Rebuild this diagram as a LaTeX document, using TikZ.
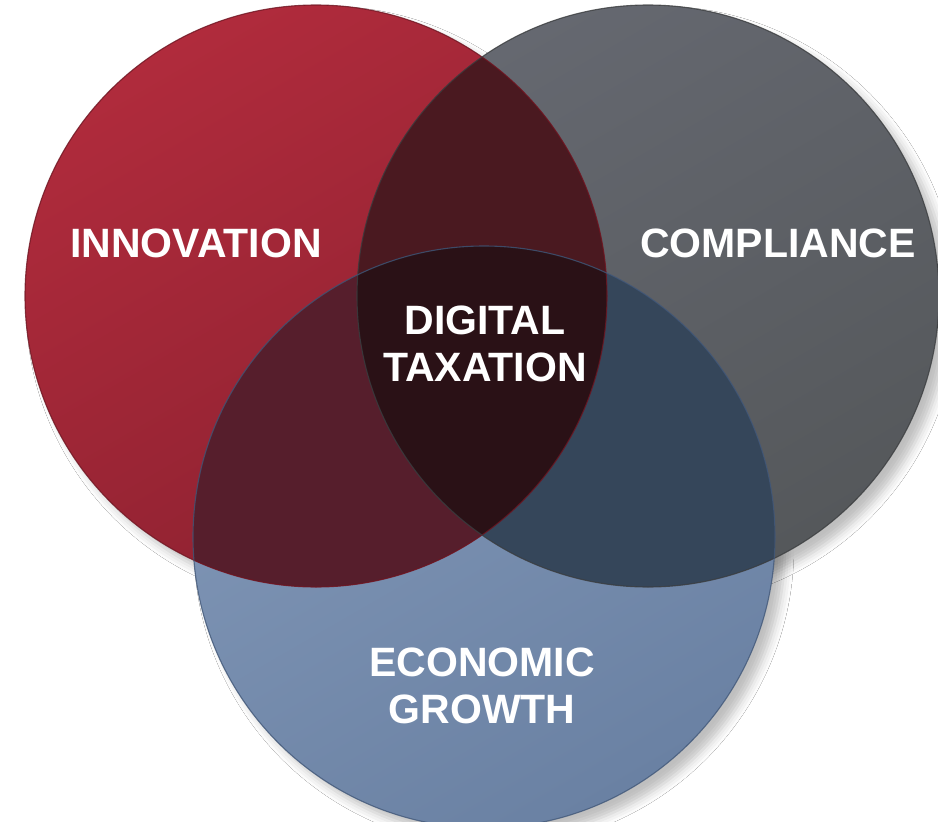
\documentclass[tikz,border=0pt]{standalone}
\usepackage{fontspec}
\setsansfont{Liberation Sans}
\usetikzlibrary{positioning,shadows.blur}

\definecolor{redhi}{HTML}{B02B3C}
\definecolor{redlo}{HTML}{8C2130}
\definecolor{grayhi}{HTML}{656870}
\definecolor{graylo}{HTML}{55585B}
\definecolor{bluehi}{HTML}{8298B8}
\definecolor{bluelo}{HTML}{6A81A3}
\definecolor{redgray}{HTML}{4A1920}
\definecolor{redblue}{HTML}{561E2C}
\definecolor{grayblue}{HTML}{35465A}
\definecolor{core}{HTML}{2A1116}
\definecolor{redrim}{HTML}{6E1521}
\definecolor{grayrim}{HTML}{3A3C3E}
\definecolor{bluerim}{HTML}{3F5576}

\begin{document}
\begin{tikzpicture}[x=1pt, y=-1pt,
    lbl/.style={text=white, font=\sffamily\bfseries\fontsize{41}{47}\selectfont, align=center, inner sep=0pt},
    rim/.style={line width=1.1pt, draw opacity=0.8}]
    \useasboundingbox (0,0) rectangle (938,822);
    \fill[white] (0,0) rectangle (938,822);
    \def\rad{291pt}
    \coordinate (red) at (316,296);
    \coordinate (gray) at (648,296);
    \coordinate (blue) at (484,537);
    % soft shadows under the three discs
    \foreach \k in {red,gray,blue}
        \fill[white, blur shadow={shadow xshift=10pt, shadow yshift=-10pt, shadow blur radius=9pt, shadow opacity=25}] (\k) circle[radius=\rad];
    % the discs
    \shade[top color=grayhi, bottom color=graylo, shading angle=30] (gray) circle[radius=\rad];
    \shade[top color=bluehi, bottom color=bluelo, shading angle=30] (blue) circle[radius=\rad];
    \shade[top color=redhi, bottom color=redlo, shading angle=30] (red) circle[radius=\rad];
    % overlaps
    \begin{scope}
        \clip (red) circle[radius=\rad];
        \fill[redgray] (gray) circle[radius=\rad];
        \fill[redblue] (blue) circle[radius=\rad];
    \end{scope}
    \begin{scope}
        \clip (gray) circle[radius=\rad];
        \fill[grayblue] (blue) circle[radius=\rad];
    \end{scope}
    \begin{scope}
        \clip (red) circle[radius=\rad];
        \clip (gray) circle[radius=\rad];
        \fill[core] (blue) circle[radius=\rad];
    \end{scope}
    % rims
    \draw[rim, draw=redrim] (red) circle[radius=\rad];
    \draw[rim, draw=grayrim] (gray) circle[radius=\rad];
    \draw[rim, draw=bluerim] (blue) circle[radius=\rad];
    % labels
    \node[lbl] (innov) at (196,243) {INNOVATION};
    \node[lbl] (compl) at (778,243) {COMPLIANCE};
    \node[lbl] (digtax) at (485,344) {DIGITAL\\TAXATION};
    \node[lbl] (growth) at (482,686) {ECONOMIC\\GROWTH};
\end{tikzpicture}
\end{document}
